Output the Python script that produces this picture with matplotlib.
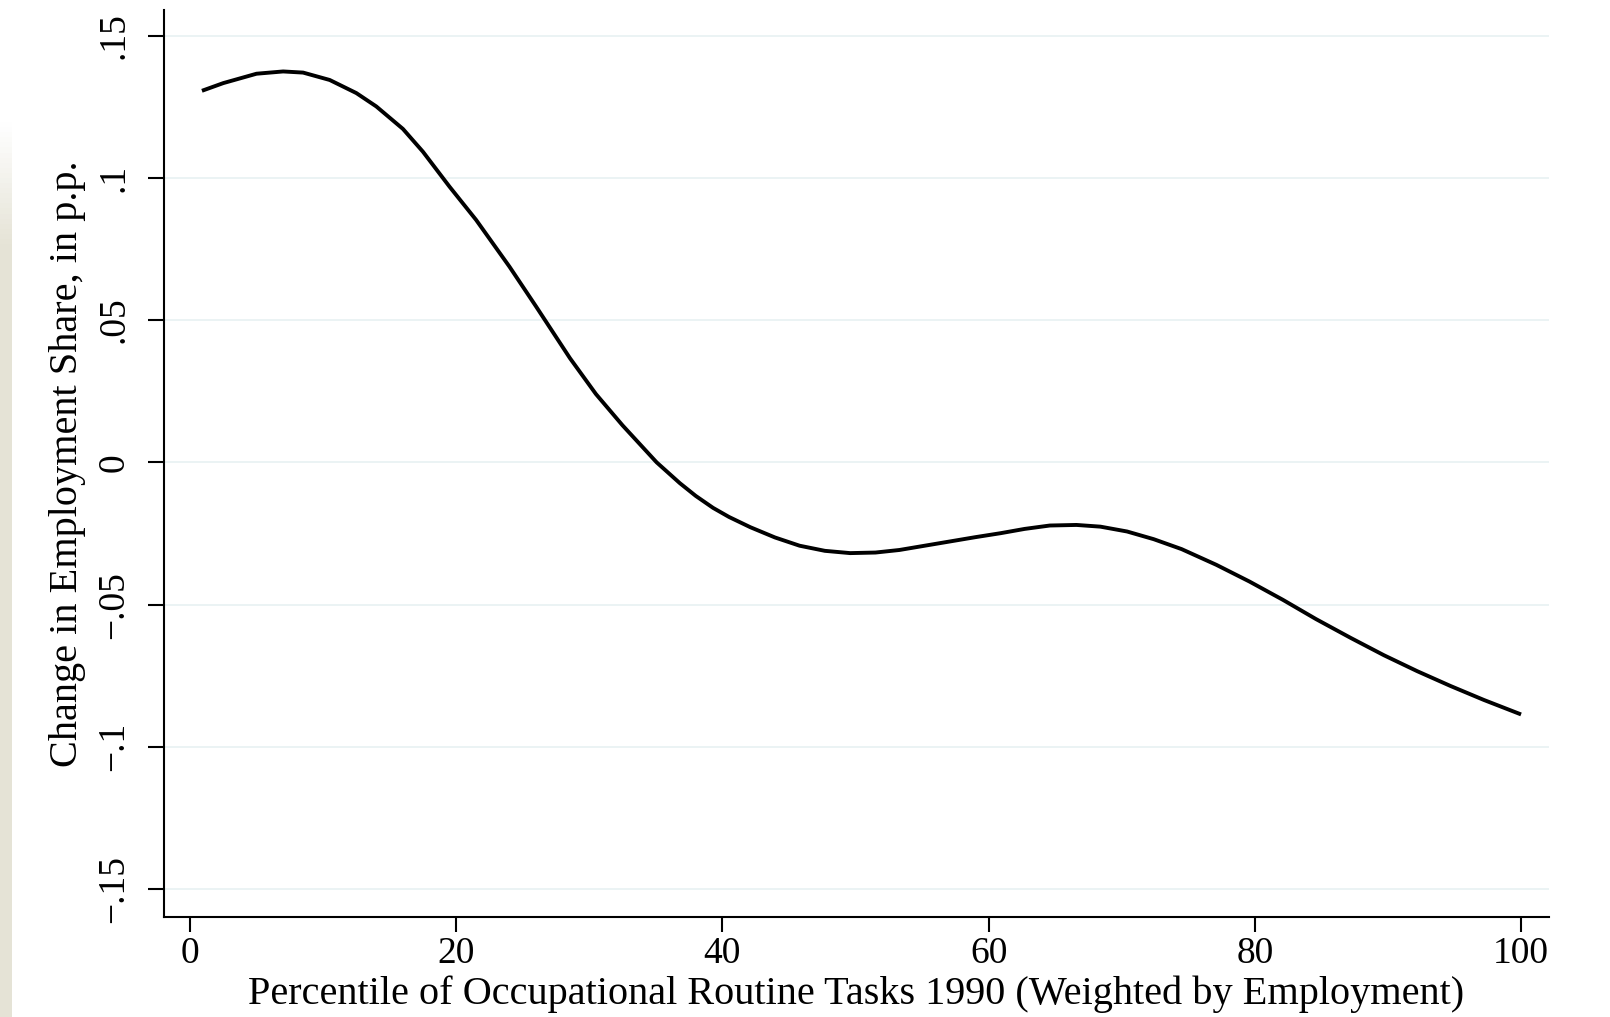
import numpy as np
import matplotlib
matplotlib.use("Agg")
import matplotlib.pyplot as plt

# Percentile of occupational routine task intensity (1990, employment weighted)
percentile = [0.9, 2.5, 5.0, 7.0, 8.5, 10.5, 12.5, 14.0, 16.0, 17.5, 19.5,
              21.5, 24.0, 26.0, 28.55, 30.5, 32.5, 35.06, 36.8, 38.0,
              39.3, 40.5, 42.1, 43.95, 45.8, 47.7, 49.6, 51.5, 53.3, 55.2, 57.1,
              59.0, 60.9, 62.7, 64.6, 66.6, 68.4, 70.4, 72.4, 74.5, 77.1, 79.6,
              82.1, 84.6, 87.2, 89.7, 92.2, 94.7, 97.2, 100.0]
# Smoothed change in employment share, percentage points
share_change = [0.1306, 0.1333, 0.1366, 0.1374, 0.1370, 0.1344, 0.1298, 0.1251,
                0.1172, 0.1092, 0.0969, 0.0852, 0.0688, 0.0548, 0.0366, 0.0240,
                0.0130, 0.0000, -0.0073, -0.0118, -0.0160, -0.0192,
                -0.0228, -0.0264, -0.0293, -0.0311, -0.0319, -0.0317, -0.0308,
                -0.0293, -0.0278, -0.0263, -0.0249, -0.0234, -0.0222, -0.0220,
                -0.0226, -0.0243, -0.0270, -0.0305, -0.0360, -0.0419, -0.0483,
                -0.0551, -0.0617, -0.0678, -0.0734, -0.0786, -0.0835, -0.0886]

x_ticks = [0, 20, 40, 60, 80, 100]
x_tick_labels = ["0", "20", "40", "60", "80", "100"]
y_ticks = [-0.15, -0.10, -0.05, 0.0, 0.05, 0.10, 0.15]
y_tick_labels = ["\u2212.15", "\u2212.1", "\u2212.05", "0", ".05", ".1", ".15"]

x_label = "Percentile of Occupational Routine Tasks 1990 (Weighted by Employment)"
y_label = "Change in Employment Share, in p.p."

plt.rcParams["font.family"] = ["Liberation Serif", "DejaVu Serif"]
TICK_FS = 27
LABEL_FS = 29

fig = plt.figure(figsize=(16.10, 10.17), dpi=100)
fig.patch.set_facecolor("white")

# thin beige strip along the left edge
strip = fig.add_axes([0, 0, 11 / 1610, 1])
grad = np.ones((200, 1, 4))
grad[..., 0] = 229 / 255
grad[..., 1] = 227 / 255
grad[..., 2] = 214 / 255
alpha = np.clip((np.linspace(0, 1, 200) - 0.12) / 0.12, 0, 1)
grad[:, 0, 3] = alpha
strip.imshow(grad, aspect="auto", extent=[0, 1, 1, 0])
strip.set_axis_off()

ax = fig.add_axes([164 / 1610, 1 - 916.7 / 1017, (1549 - 164) / 1610, (916.7 - 10) / 1017])
ax.set_xlim(-1.95, 102.1)
ax.set_ylim(-0.1597, 0.159)

for yv in y_ticks:
    ax.axhline(yv, color="#e8f1f2", lw=1.2, zorder=0)

ax.plot(percentile, share_change, color="black", lw=2.8, solid_capstyle="butt",
        solid_joinstyle="round", zorder=3)

for side in ("top", "right"):
    ax.spines[side].set_visible(False)
for side in ("left", "bottom"):
    ax.spines[side].set_linewidth(1.5)
    ax.spines[side].set_color("black")

ax.set_xticks(x_ticks)
ax.set_xticklabels(x_tick_labels, fontsize=TICK_FS)
ax.set_yticks(y_ticks)
ax.set_yticklabels(y_tick_labels, fontsize=TICK_FS, rotation=90, va="center")
ax.tick_params(axis="x", direction="out", length=10.5, width=1.5, pad=4)
ax.tick_params(axis="y", direction="out", length=11.5, width=1.5, pad=12)

ax.set_xlabel(x_label, fontsize=LABEL_FS, labelpad=3)
ax.set_ylabel(y_label, fontsize=LABEL_FS, labelpad=8)

fig.savefig("out.png", dpi=100, facecolor="white")
